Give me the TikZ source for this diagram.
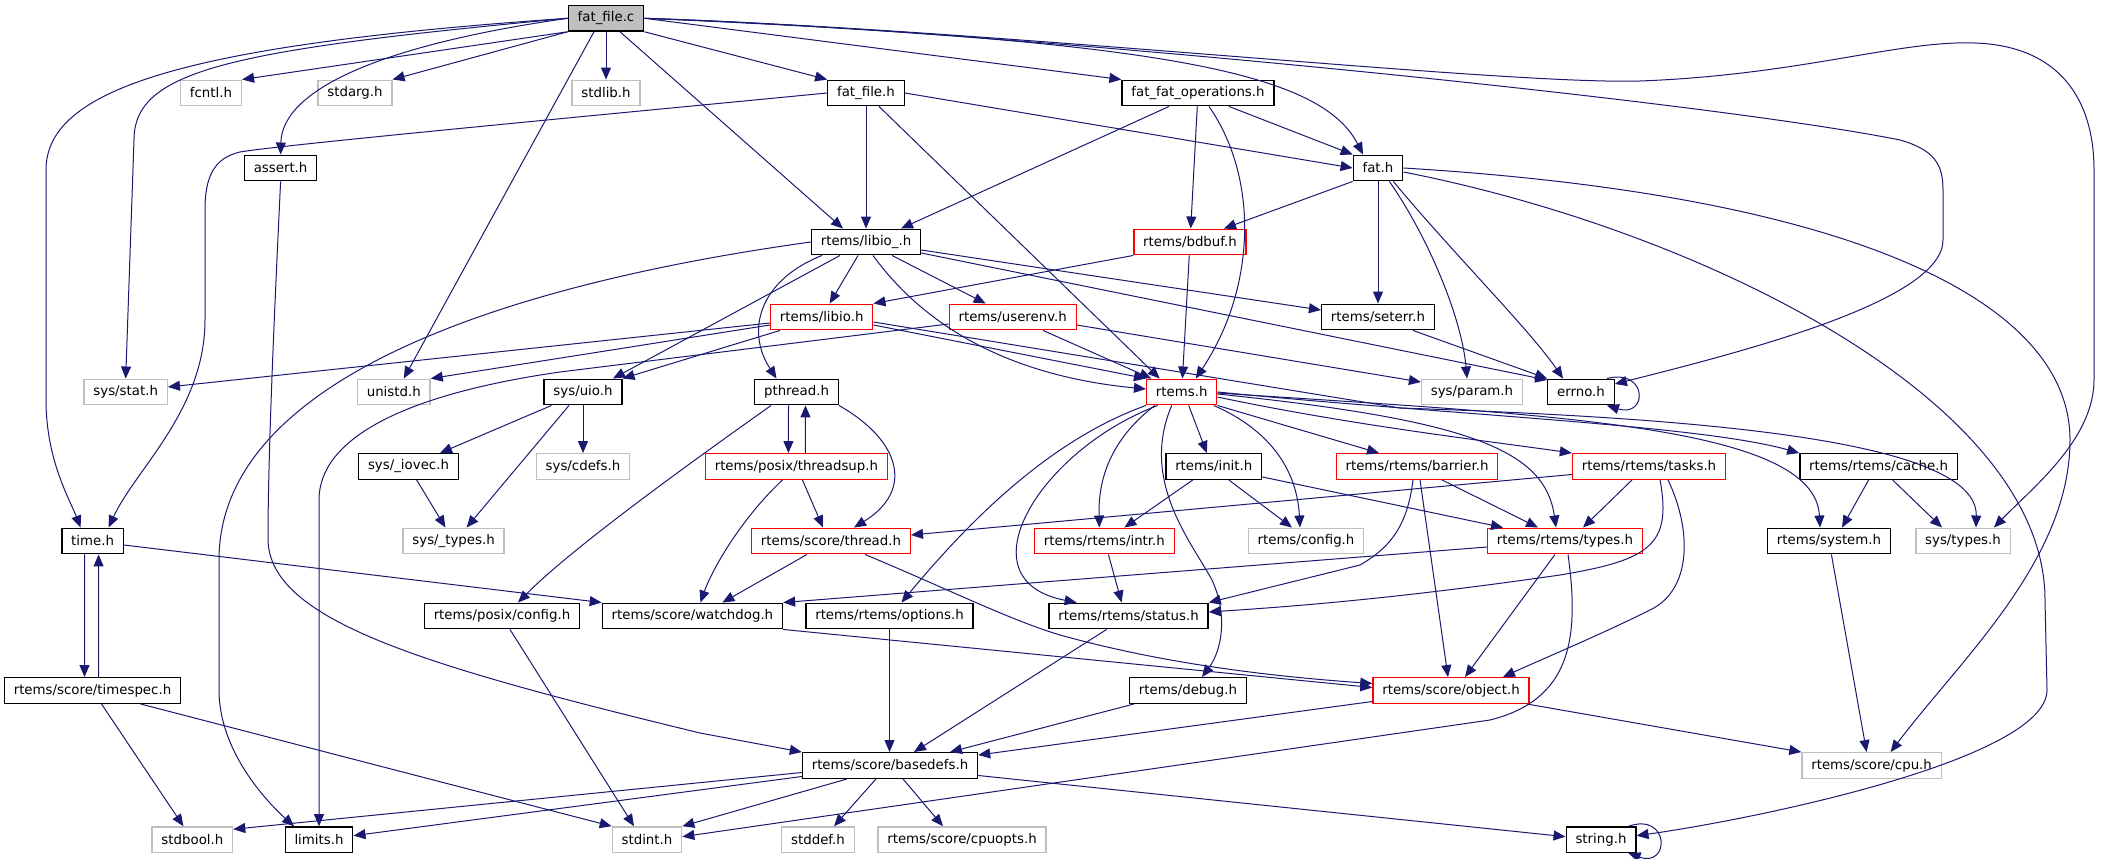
\documentclass[tikz,border=0pt]{standalone}
\usepackage{fontspec}
\setmainfont{DejaVu Sans}
\usepackage{tikz}
\usetikzlibrary{calc,arrows.meta}
\definecolor{edgeblue}{HTML}{191970}
\definecolor{grey75}{HTML}{BFBFBF}
\begin{document}
\begin{tikzpicture}[x=0.75pt,y=-0.75pt,
    hdr/.style={draw=black,line width=1pt,fill=white,minimum height=19.2pt,inner xsep=7pt,inner ysep=0pt,font=\fontsize{10}{12}\selectfont},
    redhdr/.style={hdr,draw=red},
    syshdr/.style={hdr,draw=grey75},
    roothdr/.style={hdr,fill=grey75},
    inc/.style={edgeblue,line width=0.75pt,-{Triangle[length=9pt,width=7.5pt]}}]
    \useasboundingbox (0,0) rectangle (2103,859);
    \node[roothdr] (fatfilec) at (606,18.3) {fat\_file.c};
    \node[syshdr] (fcntl) at (211,93) {fcntl.h};
    \node[syshdr] (stdarg) at (355,93) {stdarg.h};
    \node[syshdr] (stdlib) at (606,93) {stdlib.h};
    \node[hdr] (fatfileh) at (866,93) {fat\_file.h};
    \node[hdr] (fatops) at (1198,93) {fat\_fat\_operations.h};
    \node[hdr] (assert) at (280.6,168) {assert.h};
    \node[hdr] (fath) at (1378,168) {fat.h};
    \node[hdr] (libiou) at (866,242) {rtems/libio\_.h};
    \node[redhdr] (bdbuf) at (1190,242) {rtems/bdbuf.h};
    \node[redhdr] (libio) at (821.7,317) {rtems/libio.h};
    \node[redhdr] (userenv) at (1012.7,317) {rtems/userenv.h};
    \node[hdr] (seterr) at (1378,317) {rtems/seterr.h};
    \node[syshdr] (sysstat) at (125.7,392) {sys/stat.h};
    \node[syshdr] (unistd) at (393.8,392) {unistd.h};
    \node[hdr] (sysuio) at (583,392) {sys/uio.h};
    \node[hdr] (pthread) at (796.5,392) {pthread.h};
    \node[redhdr] (rtemsh) at (1181.7,392) {rtems.h};
    \node[syshdr] (sysparam) at (1472,392) {sys/param.h};
    \node[hdr] (errno) at (1581,392) {errno.h};
    \node[hdr] (iovec) at (408.5,466.5) {sys/\_iovec.h};
    \node[syshdr] (cdefs) at (583,466.5) {sys/cdefs.h};
    \node[redhdr] (threadsup) at (796.4,466.5) {rtems/posix/threadsup.h};
    \node[hdr] (init) at (1213.8,466.5) {rtems/init.h};
    \node[redhdr] (barrier) at (1417,466.5) {rtems/rtems/barrier.h};
    \node[redhdr] (tasks) at (1649,466.5) {rtems/rtems/tasks.h};
    \node[hdr] (cache) at (1878.6,466.5) {rtems/rtems/cache.h};
    \node[hdr] (timeh) at (92.6,541) {time.h};
    \node[syshdr] (systypesu) at (453.6,541) {sys/\_types.h};
    \node[redhdr] (thread) at (831,541) {rtems/score/thread.h};
    \node[redhdr] (intr) at (1104.4,541) {rtems/rtems/intr.h};
    \node[syshdr] (config) at (1306,541) {rtems/config.h};
    \node[redhdr] (types) at (1565,541) {rtems/rtems/types.h};
    \node[hdr] (system) at (1829,541) {rtems/system.h};
    \node[syshdr] (systypes) at (1963,541) {sys/types.h};
    \node[hdr] (posixcfg) at (502,616) {rtems/posix/config.h};
    \node[hdr] (watchdog) at (692.4,616) {rtems/score/watchdog.h};
    \node[hdr] (options) at (889.5,616) {rtems/rtems/options.h};
    \node[hdr] (status) at (1128.6,616) {rtems/rtems/status.h};
    \node[hdr] (timespec) at (92.5,690.5) {rtems/score/timespec.h};
    \node[hdr] (debug) at (1188,690.5) {rtems/debug.h};
    \node[redhdr] (object) at (1451,690.5) {rtems/score/object.h};
    \node[hdr] (basedefs) at (890,765.5) {rtems/score/basedefs.h};
    \node[syshdr] (cpu) at (1871.6,765.5) {rtems/score/cpu.h};
    \node[syshdr] (stdbool) at (192.4,839.7) {stdbool.h};
    \node[hdr] (limits) at (319,839.7) {limits.h};
    \node[syshdr] (stdint) at (647,839.7) {stdint.h};
    \node[syshdr] (stddef) at (818,839.7) {stddef.h};
    \node[syshdr] (cpuopts) at (962,839.7) {rtems/score/cpuopts.h};
    \node[hdr] (string) at (1601,839.7) {string.h};

    \draw[inc] (fatfilec.south west) -- (fcntl.north east);
    \draw[inc] (fatfilec.south west) -- (stdarg.north east);
    \draw[inc] (fatfilec) -- (stdlib);
    \draw[inc] (fatfilec.west) .. controls (380,45) and (282,90) .. (assert.north);
    \draw[inc] (fatfilec.west) .. controls (230,50) and (134,70) .. (134,140) -- (sysstat.north);
    \draw[inc] (fatfilec.west) .. controls (180,45) and (46,90) .. (46,170) -- (46,400) .. controls (46,460) and (70,500) .. ($(timeh.north)+(-12,0)$);
    \draw[inc] ($(fatfilec.south)+(-12,0)$) -- ($(unistd.north)+(10,0)$);
    \draw[inc] ($(fatfilec.south)+(14,0)$) -- ($(libiou.north)+(-23,0)$);
    \draw[inc] (fatfilec.south east) -- (fatfileh.north west);
    \draw[inc] (fatfilec.east) -- (fatops.north west);
    \draw[inc] (fatfilec.east) .. controls (1150,40) and (1320,70) .. ($(fath.north)+(-15,0)$);
    \draw[inc] (fatfilec.east) .. controls (1000,30) and (1700,100) .. (1900,140) .. controls (1935,150) and (1943,165) .. (1943,190) -- (1943,240) .. controls (1943,300) and (1750,350) .. ($(errno.east)+(0,-8)$);
    \draw[inc] (fatfilec.east) .. controls (1000,30) and (1500,85) .. (1640,81) .. controls (1800,75) and (1900,40) .. (1975,43) .. controls (2060,46) and (2094,100) .. (2094,170) -- (2094,380) .. controls (2094,440) and (2030,490) .. ($(systypes.north)+(31,0)$);

    \draw[inc] (fatfileh.west) .. controls (600,115) and (280,145) .. (240,152) .. controls (215,158) and (205,175) .. (205,210) -- (205,320) .. controls (205,410) and (135,470) .. ($(timeh.north)+(16,0)$);
    \draw[inc] (fatfileh) -- (libiou);
    \draw[inc] ($(fatfileh.south)+(13,0)$) -- ($(rtemsh.north)+(-22,0)$);
    \draw[inc] (fatfileh.east) -- (fath.west);
    \draw[inc] ($(fatops.south)+(-29,0)$) -- ($(libiou.north)+(35,0)$);
    \draw[inc] (fatops) -- (bdbuf);
    \draw[inc] ($(fatops.south)+(11,0)$) .. controls (1260,180) and (1255,290) .. ($(rtemsh.north)+(14,0)$);
    \draw[inc] ($(fatops.south)+(31,0)$) -- (fath.north west);
    \draw[inc] (fath.south west) -- ($(bdbuf.north)+(34,0)$);
    \draw[inc] (fath) -- (seterr);
    \draw[inc] ($(fath.south east)+(-14,0)$) .. controls (1430,240) and (1462,320) .. ($(sysparam.north)+(-5,0)$);
    \draw[inc] ($(fath.south east)+(-10,0)$) .. controls (1450,250) and (1530,330) .. ($(errno.north)+(-18,0)$);
    \draw[inc] (fath.east) .. controls (1850,195) and (2070,300) .. (2070,440) .. controls (2070,560) and (1960,660) .. ($(cpu.north)+(19,0)$);
    \draw[inc] ($(fath.east)+(0,4)$) .. controls (1700,230) and (2045,400) .. (2045,600) -- (2047,690) .. controls (2047,760) and (1750,820) .. ($(string.east)+(0,-4)$);

    \draw[inc] (libiou.west) .. controls (500,285) and (219,380) .. (219,560) -- (219,690) .. controls (219,750) and (265,800) .. ($(limits.north)+(-25,0)$);
    \draw[inc] ($(libiou.south)+(-26,0)$) -- ($(sysuio.north)+(30,0)$);
    \draw[inc] ($(libiou.south)+(-44,0)$) .. controls (760,280) and (745,330) .. ($(pthread.north)+(-20,0)$);
    \draw[inc] (libiou) -- (libio);
    \draw[inc] ($(libiou.south)+(7,0)$) .. controls (920,320) and (1000,375) .. ($(rtemsh.west)+(0,-3)$);
    \draw[inc] ($(libiou.south)+(26,0)$) -- ($(userenv.north)+(-27,0)$);
    \draw[inc] ($(libiou.east)+(0,8)$) -- ($(seterr.west)+(0,-7)$);
    \draw[inc] ($(libiou.east)+(0,11)$) -- ($(errno.west)+(0,-12)$);
    \draw[inc] (bdbuf.south west) -- (libio.north east);
    \draw[inc] (bdbuf) -- (rtemsh);
    \draw[inc] ($(libio.west)+(0,6)$) -- ($(sysstat.east)+(0,-5)$);
    \draw[inc] ($(libio.west)+(0,8)$) -- (unistd.north east);
    \draw[inc] ($(libio.south west)+(10,0)$) -- (sysuio.north east);
    \draw[inc] ($(libio.east)+(0,8)$) -- (rtemsh.north west);
    \draw[inc] ($(libio.east)+(0,5)$) -- (1400,408) .. controls (1700,418) and (1978,440) .. ($(systypes.north)+(13,0)$);
    \draw[inc] (userenv) -- (rtemsh);
    \draw[inc] ($(userenv.east)+(0,8)$) -- ($(sysparam.west)+(0,-10)$);
    \draw[inc] ($(userenv.west)+(0,7)$) -- (560,372) .. controls (400,395) and (319,440) .. (319,500) -- (limits.north);
    \draw[inc] ($(seterr.south)+(35,0)$) -- (errno.north west);

    \draw[inc] (sysuio) -- (iovec);
    \draw[inc] (sysuio) -- (cdefs);
    \draw[inc] ($(sysuio.south)+(-14,0)$) -- ($(systypesu.north)+(13,0)$);
    \draw[inc] (iovec) -- (systypesu);
    \draw[inc] ($(pthread.south)+(-8,0)$) -- ($(threadsup.north)+(-8,0)$);
    \draw[inc] ($(threadsup.north)+(9,0)$) -- ($(pthread.south)+(9,0)$);
    \draw[inc] (pthread.south east) .. controls (900,440) and (915,490) .. ($(thread.north)+(23,0)$);
    \draw[inc] ($(pthread.south west)+(17,0)$) .. controls (680,470) and (570,550) .. ($(posixcfg.north)+(16,0)$);
    \draw[inc] ($(threadsup.south)+(6,0)$) -- ($(thread.north)+(-8,0)$);
    \draw[inc] ($(threadsup.south)+(-14,0)$) .. controls (740,520) and (712,570) .. ($(watchdog.north)+(8,0)$);
    \draw[inc] ($(thread.south)+(-24,0)$) -- ($(watchdog.north)+(30,0)$);
    \draw[inc] ($(thread.south)+(34,0)$) .. controls (950,590) and (1010,620) .. (1060,635) .. controls (1150,660) and (1250,675) .. ($(object.west)+(0,-7)$);
    \draw[inc] ($(timeh.south)+(-8,0)$) -- ($(timespec.north)+(-8,0)$);
    \draw[inc] ($(timespec.north)+(6,0)$) -- ($(timeh.south)+(6,0)$);
    \draw[inc] ($(timeh.east)+(0,4)$) -- (watchdog.north west);
    \draw[inc] ($(timespec.south)+(9,0)$) -- ($(stdbool.north)+(-9,0)$);
    \draw[inc] ($(timespec.south)+(48,0)$) -- (stdint.north west);
    \draw[inc] ($(posixcfg.south)+(8,0)$) -- ($(stdint.north)+(-13,0)$);
    \draw[inc] (watchdog.south east) -- ($(object.west)+(0,-3)$);
    \draw[inc] (assert.south) .. controls (275,300) and (268,450) .. (268,540) .. controls (270,620) and (420,665) .. (700,733) -- (basedefs.north west);

    \draw[inc] (rtemsh.south west) .. controls (1050,440) and (970,520) .. ($(options.north)+(12,0)$);
    \draw[inc] ($(rtemsh.south)+(-24,0)$) .. controls (1040,450) and (960,580) .. ($(status.north)+(-52,0)$);
    \draw[inc] ($(rtemsh.south)+(-27,0)$) .. controls (1110,440) and (1098,480) .. ($(intr.north)+(-5,0)$);
    \draw[inc] ($(rtemsh.south)+(-10,0)$) .. controls (1140,480) and (1190,540) .. (1212,580) .. controls (1228,615) and (1222,650) .. ($(debug.north)+(14,0)$);
    \draw[inc] ($(rtemsh.south)+(7,0)$) -- ($(init.north)+(-7,0)$);
    \draw[inc] ($(rtemsh.south)+(32,0)$) .. controls (1270,430) and (1297,470) .. ($(config.north)+(-6,0)$);
    \draw[inc] (rtemsh.south east) -- ($(barrier.north)+(-38,0)$);
    \draw[inc] ($(rtemsh.east)+(0,5)$) .. controls (1350,425) and (1480,440) .. (tasks.north west);
    \draw[inc] ($(rtemsh.east)+(0,2)$) .. controls (1470,420) and (1545,450) .. ($(types.north)+(-9,0)$);
    \draw[inc] (rtemsh.east) .. controls (1450,415) and (1700,425) .. (cache.north west);
    \draw[inc] ($(rtemsh.east)+(0,1)$) .. controls (1550,415) and (1815,425) .. ($(system.north)+(-9,0)$);
    \draw[inc] ($(init.south)+(-21,0)$) -- ($(intr.north)+(20,0)$);
    \draw[inc] ($(init.south)+(15,0)$) -- ($(config.north)+(-14,0)$);
    \draw[inc] ($(init.south east)+(0,-3)$) -- ($(types.north)+(-62,0)$);
    \draw[inc] ($(intr.south)+(4,0)$) -- ($(status.north)+(-7,0)$);
    \draw[inc] ($(barrier.south)+(25,0)$) -- ($(types.north)+(-27,0)$);
    \draw[inc] ($(barrier.south)+(-4,0)$) .. controls (1408,520) and (1395,545) .. (1360,565) -- (status.north east);
    \draw[inc] ($(barrier.south)+(3,0)$) -- ($(object.north)+(-3,0)$);
    \draw[inc] ($(tasks.west)+(0,8)$) -- ($(thread.east)+(0,-6)$);
    \draw[inc] ($(tasks.south)+(-17,0)$) -- ($(types.north)+(18,0)$);
    \draw[inc] ($(tasks.south)+(11,0)$) .. controls (1672,545) and (1650,560) .. (1560,575) .. controls (1400,598) and (1300,606) .. ($(status.east)+(0,-4)$);
    \draw[inc] ($(tasks.south)+(19,0)$) .. controls (1692,530) and (1692,590) .. (1650,610) .. controls (1600,635) and (1540,660) .. ($(object.north)+(52,0)$);
    \draw[inc] ($(cache.south)+(-10,0)$) -- ($(system.north)+(13,0)$);
    \draw[inc] ($(cache.south)+(14,0)$) -- ($(systypes.north)+(-21,0)$);
    \draw[inc] (system) -- ($(cpu.north)+(-5,0)$);
    \draw[inc] ($(types.west)+(0,6)$) -- (watchdog.north east);
    \draw[inc] ($(types.south)+(-10,0)$) -- ($(object.north)+(14,0)$);
    \draw[inc] ($(types.south)+(3,0)$) .. controls (1580,640) and (1570,700) .. (1490,720) -- ($(stdint.east)+(0,-3)$);

    \draw[inc] ($(options.south)$) -- (basedefs.north -| options.south);
    \draw[inc] ($(status.south)+(-22,0)$) -- ($(basedefs.north)+(24,0)$);
    \draw[inc] ($(debug.south west)+(5,0)$) -- ($(basedefs.north)+(60,0)$);
    \draw[inc] ($(object.west)+(0,11)$) -- ($(basedefs.north east)+(0,3)$);
    \draw[inc] ($(object.south east)+(-3,0)$) -- (cpu.north west);
    \draw[inc] ($(basedefs.west)+(0,7)$) -- ($(stdbool.north east)+(0,3)$);
    \draw[inc] ($(basedefs.west)+(0,11)$) -- ($(limits.east)+(0,-4)$);
    \draw[inc] ($(basedefs.south)+(-43,0)$) -- (stdint.north east);
    \draw[inc] ($(basedefs.south)+(-14,0)$) -- ($(stddef.north)+(16,0)$);
    \draw[inc] ($(basedefs.south)+(13,0)$) -- ($(cpuopts.north)+(-19,0)$);
    \draw[inc] ($(basedefs.east)+(0,10)$) -- ($(string.west)+(0,-3)$);

    \draw[inc] ($(errno.north east)+(-8,0)$) .. controls (1648,368) and (1648,418) .. ($(errno.south east)+(-8,0)$);
    \draw[inc] ($(string.north east)+(-8,0)$) .. controls (1670,812) and (1670,868) .. ($(string.south east)+(-8,0)$);
\end{tikzpicture}
\end{document}
